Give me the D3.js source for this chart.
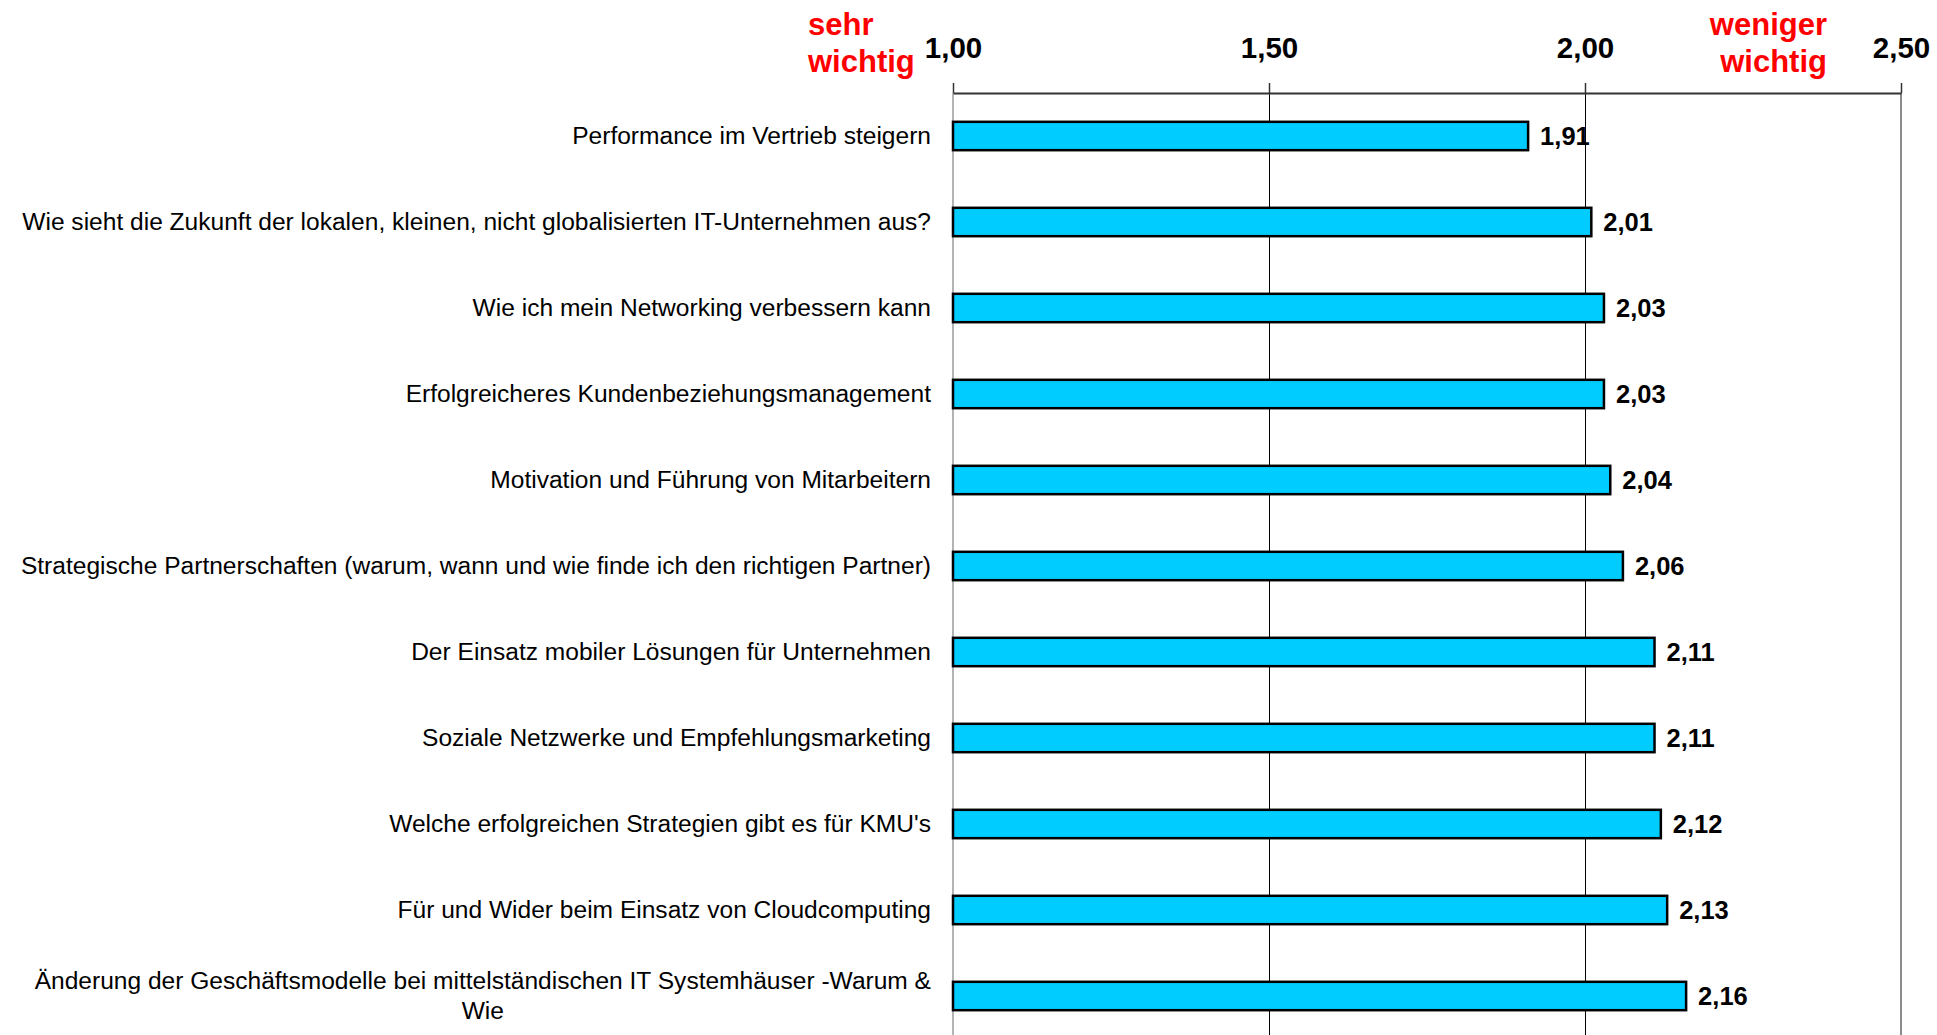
<!DOCTYPE html>
<html>
<head>
<meta charset="utf-8">
<script src="https://cdn.jsdelivr.net/npm/d3@7"></script>
<style>
  html, body { margin: 0; padding: 0; background: #fff; }
  svg { display: block; font-family: "Liberation Sans", Arial, sans-serif; }
</style>
</head>
<body>
<svg id="chart" width="1937" height="1035"></svg>
<script>
const categories = [
  "Performance im Vertrieb steigern",
  "Wie sieht die Zukunft der lokalen, kleinen, nicht globalisierten IT-Unternehmen aus?",
  "Wie ich mein Networking verbessern kann",
  "Erfolgreicheres Kundenbeziehungsmanagement",
  "Motivation und Führung von Mitarbeitern",
  "Strategische Partnerschaften (warum, wann und wie finde ich den richtigen Partner)",
  "Der Einsatz mobiler Lösungen für Unternehmen",
  "Soziale Netzwerke und Empfehlungsmarketing",
  "Welche erfolgreichen Strategien gibt es für KMU's",
  "Für und Wider beim Einsatz von Cloudcomputing",
  "Änderung der Geschäftsmodelle bei mittelständischen IT Systemhäuser -Warum & Wie"
];
const values = [1.91, 2.01, 2.03, 2.03, 2.04, 2.06, 2.11, 2.11, 2.12, 2.13, 2.16];
const tickValues = [1.00, 1.50, 2.00, 2.50];
const leftNote = ["sehr", "wichtig"];
const rightNote = ["weniger", "wichtig"];

const svg = d3.select("#chart");
const locale = d3.formatLocale({decimal: ",", thousands: ".", grouping: [3], currency: ["", "€"]});
const fmt = locale.format(".2f");

const x = d3.scaleLinear().domain([1, 2.5]).range([953, 1901]);
const y = d3.scaleBand().domain(categories).range([93, 1039]).paddingInner(0.67).paddingOuter(0.335);
const plotTop = 93, plotBottom = 1039;

// plot border lines (left & right)
svg.append("line")
  .attr("x1", x(1)).attr("x2", x(1)).attr("y1", plotTop).attr("y2", plotBottom)
  .attr("stroke", "#b4b4b4").attr("stroke-width", 2);
svg.append("line")
  .attr("x1", x(2.5)).attr("x2", x(2.5)).attr("y1", plotTop).attr("y2", plotBottom)
  .attr("stroke", "#8c8c8c").attr("stroke-width", 2);

// gridlines
svg.append("g").selectAll("line")
  .data(tickValues.filter(t => t > 1 && t < 2.5))
  .join("line")
  .attr("x1", d => Math.round(x(d)) + 0.5).attr("x2", d => Math.round(x(d)) + 0.5)
  .attr("y1", plotTop).attr("y2", plotBottom)
  .attr("stroke", "#000").attr("stroke-width", 1);

// bars
svg.append("g").selectAll("rect")
  .data(values)
  .join("rect")
  .attr("x", x(1))
  .attr("y", (d, i) => y(categories[i]))
  .attr("width", d => x(d) - x(1))
  .attr("height", y.bandwidth())
  .attr("fill", "#00CCFF")
  .attr("stroke", "#000")
  .attr("stroke-width", 2.5);

// value labels
svg.append("g").selectAll("text")
  .data(values)
  .join("text")
  .attr("x", d => x(d) + 12)
  .attr("y", (d, i) => y(categories[i]) + y.bandwidth() / 2 + 8.5)
  .attr("font-size", 25.5)
  .attr("font-weight", "bold")
  .attr("fill", "#000")
  .text(d => fmt(d));

// top axis
const axis = d3.axisTop(x).tickValues(tickValues).tickFormat(fmt).tickSize(10).tickSizeOuter(0).tickPadding(25);
const gAxis = svg.append("g").attr("transform", `translate(0,${plotTop})`).call(axis);
gAxis.select(".domain").attr("stroke", "#333").attr("stroke-width", 2);
gAxis.selectAll(".tick line").attr("stroke", "#333").attr("stroke-width", 1.5);
gAxis.selectAll(".tick text")
  .attr("font-size", 29.5).attr("font-weight", "bold").attr("fill", "#000")
  .attr("font-family", "'Liberation Sans', Arial, sans-serif");

// category labels with wrapping
const labelRight = 931, maxW = 932, lineH = 30, labelSize = 24.55;
const gLab = svg.append("g").attr("font-size", labelSize).attr("fill", "#000");
categories.forEach((c, i) => {
  const t = gLab.append("text").attr("text-anchor", "middle");
  const words = c.split(" ");
  const lines = [];
  let cur = [];
  const probe = gLab.append("text").attr("font-size", labelSize);
  words.forEach(w => {
    const test = cur.concat([w]).join(" ");
    probe.text(test);
    if (probe.node().getComputedTextLength() > maxW && cur.length) {
      lines.push(cur.join(" "));
      cur = [w];
    } else cur.push(w);
  });
  lines.push(cur.join(" "));
  let blockW = 0;
  lines.forEach(l => { probe.text(l); blockW = Math.max(blockW, probe.node().getComputedTextLength()); });
  probe.remove();
  const cx = labelRight - blockW / 2;
  const cy = y(c) + y.bandwidth() / 2 + 7.5;
  const first = cy - (lines.length - 1) * lineH / 2;
  lines.forEach((l, k) => {
    t.append("tspan").attr("x", cx).attr("y", first + k * lineH).text(l);
  });
});

// red notes
const noteG = svg.append("g").attr("font-size", 31).attr("font-weight", "bold").attr("fill", "#FF0000");
leftNote.forEach((s, k) => {
  noteG.append("text").attr("x", 808).attr("y", 35 + k * 37).attr("text-anchor", "start").text(s);
});
rightNote.forEach((s, k) => {
  noteG.append("text").attr("x", 1827).attr("y", 35 + k * 37).attr("text-anchor", "end").text(s);
});
</script>
</body>
</html>
